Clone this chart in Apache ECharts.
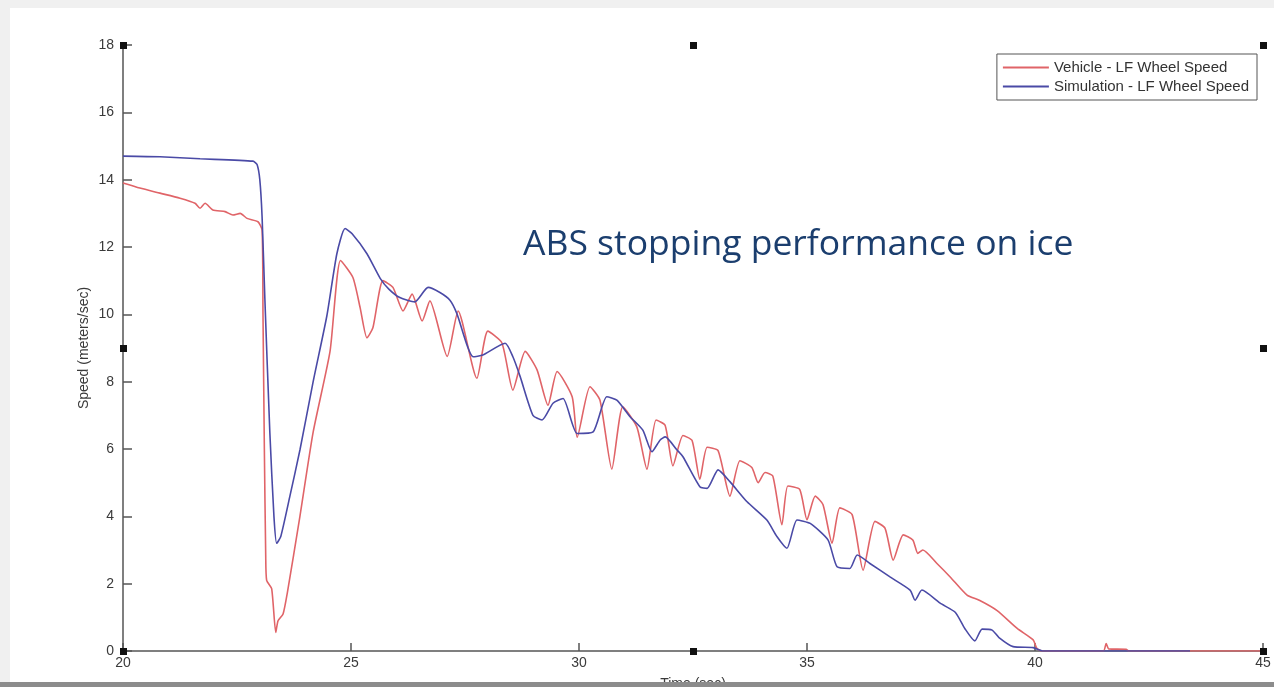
<!DOCTYPE html>
<html>
<head>
<meta charset="utf-8">
<script src="https://cdn.jsdelivr.net/npm/echarts@6/dist/echarts.min.js"></script>
<style>
  html, body { margin: 0; padding: 0; background: #f0f0f0; }
  #main { width: 1274px; height: 687px; }
</style>
</head>
<body>
<div id="main"></div>
<script>
// vehicle wheel speed
const vehicleTime = [20.00, 20.37, 20.81, 21.25, 21.58, 21.69, 21.80, 21.97, 22.24, 22.41, 22.57, 22.72, 22.96, 23.05,
  23.07, 23.10, 23.13, 23.15, 23.26, 23.35, 23.40, 23.51, 23.60, 23.88, 24.17, 24.54, 24.77, 25.04, 25.20, 25.35,
  25.48, 25.70, 25.92, 26.14, 26.34, 26.56, 26.73, 27.11, 27.35, 27.76, 28.00, 28.31, 28.55, 28.82, 29.08, 29.32,
  29.52, 29.85, 29.96, 30.24, 30.46, 30.72, 30.96, 31.27, 31.49, 31.69, 31.89, 32.06, 32.28, 32.48, 32.65, 32.81,
  33.05, 33.31, 33.53, 33.79, 33.93, 34.08, 34.25, 34.45, 34.58, 34.84, 35.00, 35.18, 35.35, 35.55, 35.72, 35.99,
  36.23, 36.49, 36.71, 36.89, 37.11, 37.32, 37.43, 37.54, 37.85, 38.14, 38.51, 38.79, 39.17, 39.61, 39.96, 40.04,
  40.15, 41.50, 41.56, 41.62, 42.00, 42.05, 45.00];
const vehicleSpeed = [13.90, 13.75, 13.60, 13.45, 13.30, 13.15, 13.30, 13.10, 13.05, 12.95, 13.00, 12.85, 12.75, 12.50,
  10.00, 6.00, 2.80, 2.10, 1.85, 0.55, 0.90, 1.10, 1.70, 4.00, 6.50, 8.90, 11.60, 11.10, 10.20, 9.30,
  9.60, 11.00, 10.80, 10.10, 10.60, 9.80, 10.40, 8.75, 10.10, 8.10, 9.50, 9.15, 7.75, 8.90, 8.35, 7.30,
  8.30, 7.55, 6.35, 7.85, 7.45, 5.40, 7.25, 6.65, 5.40, 6.86, 6.70, 5.50, 6.40, 6.25, 5.10, 6.05,
  5.95, 4.60, 5.65, 5.45, 5.00, 5.30, 5.20, 3.75, 4.90, 4.80, 3.90, 4.60, 4.35, 3.20, 4.25, 4.05,
  2.40, 3.85, 3.65, 2.70, 3.45, 3.30, 2.90, 3.00, 2.60, 2.20, 1.66, 1.50, 1.20, 0.67, 0.33, 0.08,
  0.00, 0.00, 0.22, 0.06, 0.05, 0.00, 0.00];

// simulated wheel speed
const simTime = [20.00, 20.81, 21.69, 22.85, 22.94, 23.00, 23.05, 23.11, 23.22, 23.31, 23.37, 23.46, 23.66, 23.88,
  24.17, 24.47, 24.69, 24.87, 25.02, 25.35, 25.64, 25.83, 26.07, 26.40, 26.69, 26.95, 27.17, 27.32, 27.68,
  27.89, 28.38, 28.55, 28.71, 28.99, 29.19, 29.43, 29.65, 29.96, 30.31, 30.61, 30.83, 31.12, 31.40, 31.60,
  31.78, 31.89, 32.15, 32.28, 32.65, 32.81, 33.05, 33.31, 33.68, 34.12, 34.34, 34.56, 34.78, 35.07, 35.46,
  35.66, 35.94, 36.10, 36.38, 36.82, 37.26, 37.37, 37.52, 37.92, 38.25, 38.46, 38.68, 38.84, 39.06, 39.21,
  39.52, 39.96, 40.18, 43.40];
const simSpeed = [14.70, 14.68, 14.62, 14.55, 14.45, 14.00, 12.90, 10.50, 6.50, 4.00, 3.20, 3.40, 4.60, 5.97,
  8.00, 9.95, 11.80, 12.55, 12.40, 11.80, 11.07, 10.75, 10.50, 10.37, 10.80, 10.65, 10.42, 10.03, 8.74,
  8.79, 9.14, 8.74, 8.15, 7.00, 6.86, 7.36, 7.50, 6.46, 6.51, 7.55, 7.45, 6.96, 6.56, 5.92,
  6.27, 6.36, 5.97, 5.77, 4.88, 4.83, 5.38, 5.03, 4.44, 3.89, 3.40, 3.05, 3.89, 3.79, 3.30,
  2.50, 2.45, 2.85, 2.60, 2.20, 1.81, 1.51, 1.81, 1.42, 1.15, 0.67, 0.30, 0.65, 0.62, 0.40,
  0.13, 0.10, 0.00, 0.00];

const seriesNames = ["Vehicle - LF Wheel Speed", "Simulation - LF Wheel Speed"];
const chartTitle = "ABS stopping performance on ice";

function pairs(xs, ys) {
  return xs.map((x, i) => [x, ys[i]]);
}

const chartDom = document.getElementById("main");
const myChart = echarts.init(chartDom, null, { renderer: "canvas" });

const axisFont = { color: "#3a3a3a", fontSize: 14, fontFamily: "Liberation Sans, Arial, sans-serif" };

const option = {
  backgroundColor: "#f0f0f0",
  animation: false,
  title: {
    text: chartTitle,
    left: 518,
    top: 222,
    textStyle: {
      color: "#1b3e6e",
      fontSize: 35.5,
      fontWeight: "normal",
      fontFamily: "Open Sans, sans-serif"
    }
  },
  legend: {
    data: seriesNames,
    orient: "vertical",
    right: 17,
    top: 54,
    padding: [6, 8, 6, 6],
    icon: "rect",
    itemWidth: 46,
    itemHeight: 2,
    itemGap: 4,
    borderColor: "#555",
    borderWidth: 1,
    backgroundColor: "#fff",
    textStyle: { color: "#333", fontSize: 15, lineHeight: 14, fontFamily: "Liberation Sans, Arial, sans-serif" }
  },
  grid: { left: 123, right: 11, top: 45, bottom: 36, outerBoundsMode: "none", containLabel: false },
  xAxis: {
    type: "value",
    min: 20,
    max: 45,
    interval: 5,
    name: "Time (sec)",
    nameLocation: "middle",
    nameGap: 26,
    nameTextStyle: axisFont,
    axisLine: { show: true, lineStyle: { color: "#555", width: 1.5 } },
    axisTick: { show: true, inside: true, length: 8, lineStyle: { color: "#555", width: 1.5 } },
    axisLabel: Object.assign({ margin: 5 }, axisFont),
    splitLine: { show: false }
  },
  yAxis: {
    type: "value",
    min: 0,
    max: 18,
    interval: 2,
    name: "Speed (meters/sec)",
    nameLocation: "middle",
    nameGap: 32,
    nameMoveOverlap: false,
    nameTextStyle: axisFont,
    axisLine: { show: true, lineStyle: { color: "#555", width: 1.5 } },
    axisTick: { show: true, inside: true, length: 9, lineStyle: { color: "#555", width: 1.5 } },
    axisLabel: Object.assign({ margin: 9 }, axisFont),
    splitLine: { show: false }
  },
  series: [
    {
      name: seriesNames[0],
      type: "line",
      symbol: "none",
      smooth: 0.2,
      data: pairs(vehicleTime, vehicleSpeed),
      lineStyle: { color: "#e06468", width: 1.6 },
      itemStyle: { color: "#e06468" },
      z: 2
    },
    {
      name: seriesNames[1],
      type: "line",
      symbol: "none",
      smooth: 0.2,
      data: pairs(simTime, simSpeed),
      lineStyle: { color: "#4a4aa6", width: 1.6 },
      itemStyle: { color: "#4a4aa6" },
      z: 3
    }
  ]
};

myChart.setOption(option);

// page frame + selection handles around the picture
const cornerA = myChart.convertToPixel({ gridIndex: 0 }, [20, 18]);
const cornerB = myChart.convertToPixel({ gridIndex: 0 }, [45, 0]);
const midX = (cornerA[0] + cornerB[0]) / 2;
const midY = (cornerA[1] + cornerB[1]) / 2;
const handlePts = [
  [cornerA[0], cornerA[1]], [midX, cornerA[1]], [cornerB[0], cornerA[1]],
  [cornerA[0], midY], [cornerB[0], midY],
  [cornerA[0], cornerB[1]], [midX, cornerB[1]], [cornerB[0], cornerB[1]]
];
const graphics = [
  { type: "rect", z: -10, silent: true, shape: { x: 10, y: 8, width: 1264, height: 674 }, style: { fill: "#fff" } },
  { type: "rect", z: 100, silent: true, shape: { x: 0, y: 682, width: 1274, height: 5 }, style: { fill: "#8c8c8c" } }
];
handlePts.forEach(p => {
  graphics.push({
    type: "rect", z: 100, silent: true,
    shape: { x: p[0] - 3, y: p[1] - 3, width: 7, height: 7 },
    style: { fill: "#111" }
  });
});
myChart.setOption({ graphic: graphics });
</script>
</body>
</html>
